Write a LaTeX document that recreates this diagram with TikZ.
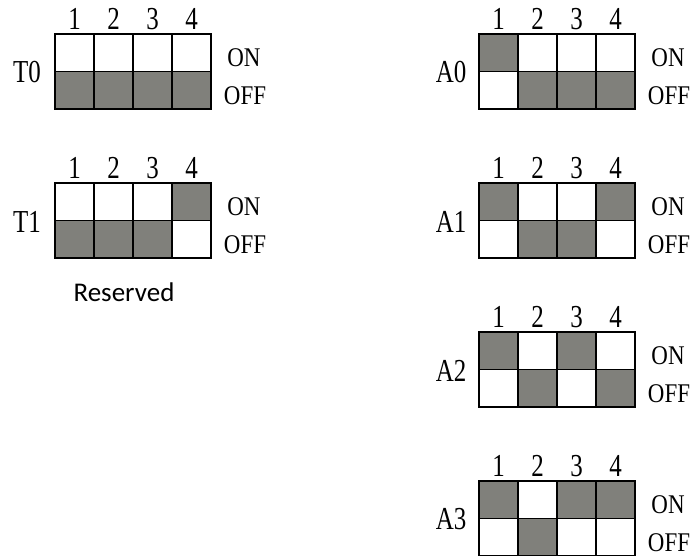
\documentclass[tikz,border=0pt]{standalone}
\usepackage{fontspec}
\setmainfont{Liberation Serif}
\newfontfamily\dipfont[FakeStretch=0.78]{Liberation Serif}
\newfontfamily\statefont[FakeStretch=0.85]{Liberation Serif}
\newfontfamily\notefont{Carlito}
\usetikzlibrary{positioning}
\definecolor{swgray}{RGB}{128,128,123}

\tikzset{
  cell/.style={draw=black, fill=white, line width=1.5pt, rectangle,
    minimum width=39pt, minimum height=37.5pt, inner sep=0pt, outer sep=0pt},
  cellset/.style={cell, fill=swgray},
  digit/.style={font=\dipfont\fontsize{32}{32}\selectfont, inner sep=0pt},
  tag/.style={font=\dipfont\fontsize{32}{32}\selectfont, inner sep=0pt},
  state/.style={font=\statefont\fontsize{27}{27}\selectfont, inner sep=0pt}
}

% #1 name, #2/#3 top left corner, #4 switch positions (1 = ON)
\newcommand{\dipswitch}[5]{%
  \foreach \s [count=\i] in {#4} {
    \pgfmathsetmacro{\cx}{#2+39*(\i-1)}
    \ifnum\s=1
      \node[cellset, anchor=north west] (#1on\i) at (\cx,#3) {};
      \node[cell, below=0pt of #1on\i] (#1off\i) {};
    \else
      \node[cell, anchor=north west] (#1on\i) at (\cx,#3) {};
      \node[cellset, below=0pt of #1on\i] (#1off\i) {};
    \fi
    \node[digit, above=4pt of #1on\i] (#1num\i) {\i};
  }
  \node[tag] (#1) at ([xshift=-28pt,yshift=-1pt]#1on1.south west) {#5};
  \node[state] (#1ON) at ([xshift=33pt,yshift=-5pt]#1on4.east) {ON};
  \node[state] (#1OFF) at ([xshift=34pt,yshift=-5pt]#1off4.east) {OFF};
}

\begin{document}
\begin{tikzpicture}[x=1pt, y=-1pt]
  \useasboundingbox (0,0) rectangle (694,555);

  % left column
  \dipswitch{tzero}{55}{34}{0,0,0,0}{T0}
  \dipswitch{tone}{55}{183}{0,0,0,1}{T1}
  \node[font=\notefont\fontsize{27}{27}\selectfont, inner sep=0pt] (reserved) at (124,292) {Reserved};

  % right column
  \dipswitch{azero}{479}{34}{1,0,0,0}{A0}
  \dipswitch{aone}{479}{183}{1,0,0,1}{A1}
  \dipswitch{atwo}{479}{332}{1,0,1,0}{A2}
  \dipswitch{athree}{479}{481}{1,0,1,1}{A3}
\end{tikzpicture}
\end{document}
